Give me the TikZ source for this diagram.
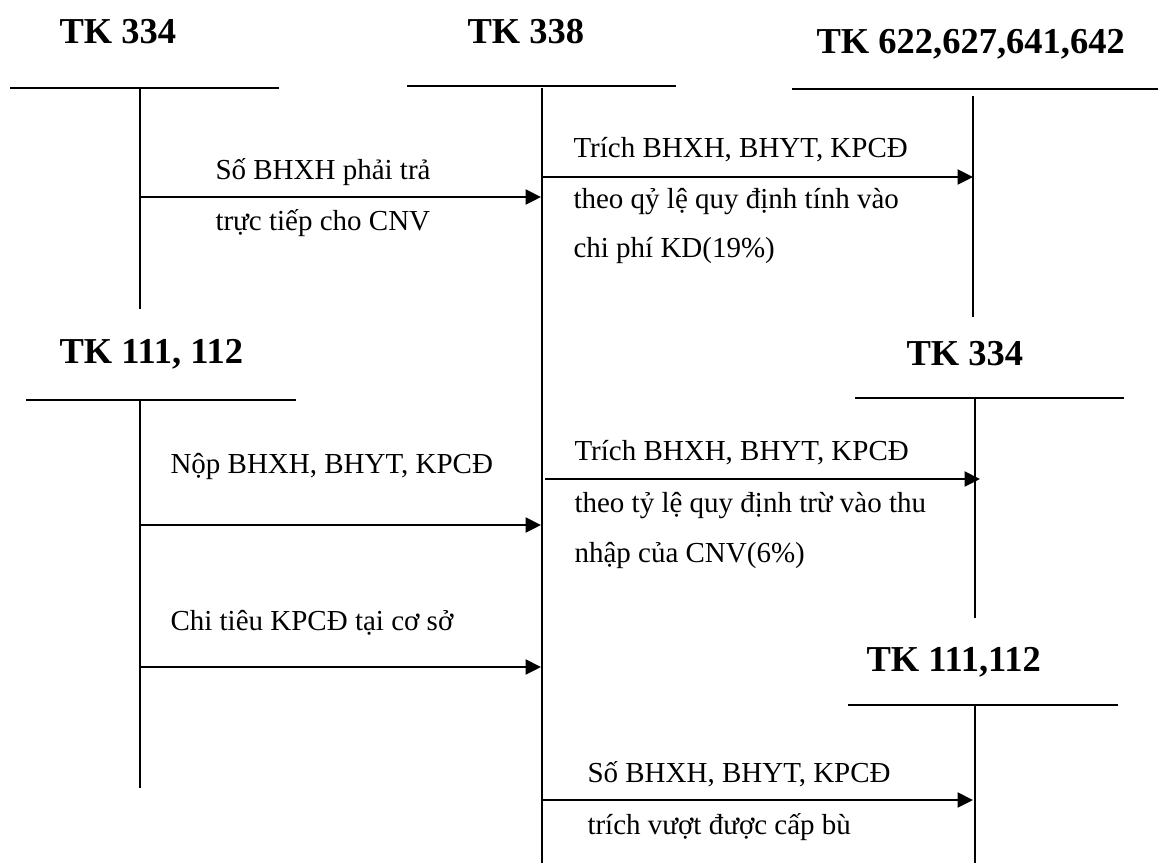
\documentclass[tikz,border=0pt]{standalone}
\usepackage{fontspec}
\setmainfont{Liberation Serif}
\usepackage{tikz}
\usetikzlibrary{arrows.meta}

\tikzset{
  acctitle/.style={font=\fontsize{14.6}{17}\selectfont\bfseries, anchor=base west, inner sep=0pt},
  note/.style={font=\fontsize{11.6}{14}\selectfont, anchor=base west, inner sep=0pt},
  tline/.style={line width=0.9pt},
  vline/.style={line width=0.65pt},
  flow/.style={line width=0.95pt, -{Triangle[length=6.2pt,width=6pt]}}
}

\begin{document}
\begin{tikzpicture}[x=0.4pt, y=-0.4pt]
    \useasboundingbox (0,0) rectangle (1158,863);

    % Account titles
    \node[acctitle] (tkA) at (59,43) {TK 334};
    \node[acctitle] (tkB) at (467,43) {TK 338};
    \node[acctitle] (tkC) at (816,53) {TK 622,627,641,642};
    \node[acctitle] (tkD) at (59,363) {TK 111, 112};
    \node[acctitle] (tkE) at (906,365) {TK 334};
    \node[acctitle] (tkF) at (866,671) {TK 111,112};

    % T-account lines
    \foreach \l/\r/\hy/\vx/\vt/\vb in {10/279/88/140/88/309, 407/676/86/542/88/863,
        792/1158/89/973/96/317, 26/296/400/140/400/788,
        855/1124/398/975/398/618, 848/1118/705/975/705/863} {
        \draw[tline] (\l,\hy) -- (\r,\hy);
        \draw[vline] (\vx,\vt) -- (\vx,\vb);
    }

    % Arrow end points
    \coordinate (a1s) at (140,197);  \coordinate (a1e) at (541,197);
    \coordinate (a2s) at (542,177);  \coordinate (a2e) at (973,177);
    \coordinate (a3s) at (140,525);  \coordinate (a3e) at (541,525);
    \coordinate (a4s) at (545,479);  \coordinate (a4e) at (980,479);
    \coordinate (a5s) at (140,667);  \coordinate (a5e) at (541,667);
    \coordinate (a6s) at (542,800);  \coordinate (a6e) at (973,800);

    % Arrows
    \foreach \a in {1,...,6} {
        \draw[flow] (a\a s) -- (a\a e);
    }

    % Labels
    \node[note] (n1a) at (215,179) {Số BHXH phải trả};
    \node[note] (n1b) at (215,230) {trực tiếp cho CNV};

    \node[note] (n2a) at (573,157) {Trích BHXH, BHYT, KPCĐ};
    \node[note] (n2b) at (573,208) {theo qỷ lệ quy định tính vào};
    \node[note] (n2c) at (573,257) {chi phí KD(19\%)};

    \node[note] (n3a) at (170,473) {Nộp BHXH, BHYT, KPCĐ};

    \node[note] (n4a) at (574,460) {Trích BHXH, BHYT, KPCĐ};
    \node[note] (n4b) at (574,512) {theo tỷ lệ quy định trừ vào thu};
    \node[note] (n4c) at (574,562) {nhập của CNV(6\%)};

    \node[note] (n5a) at (170,630) {Chi tiêu KPCĐ tại cơ sở};

    \node[note] (n6a) at (587,782) {Số BHXH, BHYT, KPCĐ};
    \node[note] (n6b) at (587,834) {trích vượt được cấp bù};
\end{tikzpicture}
\end{document}
